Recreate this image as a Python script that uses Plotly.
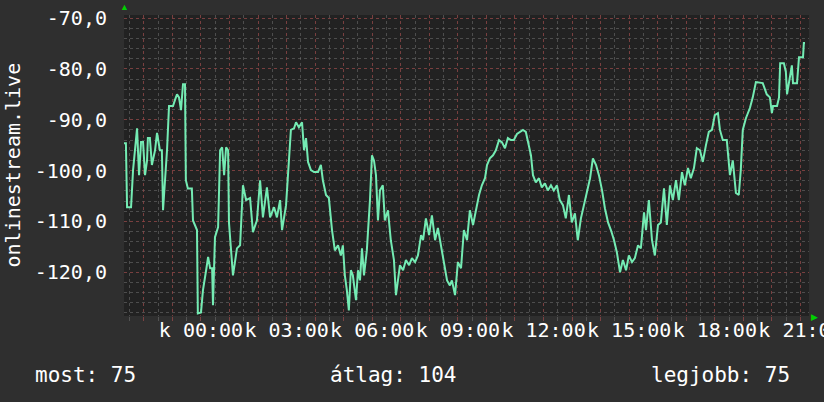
import plotly.graph_objects as go

# ---- data (hours relative to midnight, signal values) ----
hours = [-2.70, -2.63, -2.59, -2.45, -2.38, -2.31, -2.24, -2.17, -2.10, -2.03, -1.96, -1.89, -1.86, -1.79,
         -1.72, -1.61, -1.54, -1.44, -1.37, -1.33, -1.26, -1.19, -1.12, -0.98, -0.91, -0.84, -0.77, -0.70,
         -0.63, -0.56, -0.53, -0.46, -0.32, -0.28, -0.14, -0.11, 0.00, 0.07, 0.18, 0.25, 0.32, 0.39, 0.42,
         0.49, 0.60, 0.67, 0.74, 0.81, 0.88, 0.95, 0.98, 1.12, 1.19, 1.26, 1.37, 1.47, 1.58, 1.72, 1.82,
         1.96, 2.07, 2.17, 2.31, 2.42, 2.56, 2.66, 2.77, 2.84, 2.98, 3.08, 3.15, 3.26, 3.33, 3.43, 3.54,
         3.61, 3.68, 3.75, 3.85, 3.96, 4.10, 4.20, 4.27, 4.38, 4.48, 4.59, 4.69, 4.80, 4.90, 4.97, 5.04,
         5.11, 5.18, 5.25, 5.32, 5.43, 5.50, 5.57, 5.64, 5.71, 5.81, 5.92, 5.99, 6.06, 6.13, 6.20, 6.27,
         6.37, 6.44, 6.55, 6.65, 6.76, 6.83, 6.90, 6.97, 7.08, 7.18, 7.29, 7.39, 7.50, 7.60, 7.71, 7.78,
         7.88, 7.99, 8.09, 8.20, 8.30, 8.41, 8.51, 8.62, 8.72, 8.79, 8.90, 9.00, 9.11, 9.21, 9.32, 9.42,
         9.53, 9.63, 9.74, 9.84, 9.95, 10.02, 10.12, 10.23, 10.33, 10.44, 10.54, 10.65, 10.75, 10.86,
         10.96, 11.07, 11.17, 11.28, 11.38, 11.45, 11.56, 11.63, 11.73, 11.84, 11.94, 12.05, 12.15, 12.26,
         12.36, 12.47, 12.57, 12.68, 12.78, 12.89, 12.99, 13.10, 13.20, 13.31, 13.42, 13.52, 13.63, 13.73,
         13.84, 13.94, 14.05, 14.15, 14.26, 14.36, 14.47, 14.57, 14.68, 14.78, 14.89, 14.99, 15.10, 15.20,
         15.31, 15.41, 15.52, 15.59, 15.69, 15.80, 15.90, 16.01, 16.11, 16.22, 16.32, 16.43, 16.53, 16.64,
         16.74, 16.85, 16.95, 17.06, 17.16, 17.27, 17.37, 17.48, 17.58, 17.69, 17.79, 17.90, 18.00, 18.11,
         18.18, 18.28, 18.42, 18.53, 18.63, 18.74, 18.84, 18.91, 18.98, 19.09, 19.23, 19.33, 19.44, 19.68,
         19.82, 19.93, 20.00, 20.04, 20.18, 20.25, 20.29, 20.42, 20.49, 20.53, 20.63, 20.70, 20.74, 20.88,
         20.95, 21.09, 21.12, 21.16]

signal = [-94.6, -94.6, -107.2, -107.2, -99.9, -96.0, -91.7, -100.9, -94.4, -94.4, -100.9, -98.0, -93.6, -93.6,
          -98.9, -96.0, -92.6, -96.0, -96.0, -107.8, -102.5, -96.0, -87.3, -87.3, -86.1, -85.0, -85.6, -88.1,
          -83.0, -83.0, -101.9, -103.5, -103.5, -109.8, -111.7, -128.1, -127.9, -123.5, -119.6, -117.0, -119.2,
          -119.2, -126.5, -113.1, -111.1, -96.0, -95.4, -100.9, -95.4, -96.0, -110.2, -120.6, -118.0, -115.3,
          -114.7, -102.9, -105.8, -105.4, -112.1, -109.8, -101.9, -109.2, -103.3, -109.2, -107.2, -109.2,
          -105.8, -111.7, -106.8, -98.0, -92.0, -91.7, -90.5, -91.5, -90.5, -96.0, -93.6, -98.3, -99.9,
          -100.3, -100.3, -98.9, -101.9, -104.8, -105.4, -111.7, -115.7, -114.7, -116.7, -114.7, -120.6,
          -123.5, -127.5, -119.6, -120.6, -125.5, -119.6, -121.6, -115.3, -120.6, -115.7, -105.8, -97.0,
          -98.0, -100.9, -109.8, -103.9, -102.9, -109.8, -107.8, -113.7, -117.6, -124.5, -121.6, -118.6,
          -119.6, -117.6, -118.6, -117.2, -118.0, -116.7, -112.7, -113.7, -109.4, -112.7, -108.8, -113.7,
          -111.3, -114.7, -118.6, -121.6, -122.6, -121.6, -124.5, -118.0, -119.2, -111.7, -113.7, -107.8,
          -110.7, -107.8, -104.8, -102.9, -101.5, -98.9, -97.6, -97.0, -96.0, -94.0, -94.4, -95.6, -93.6,
          -94.0, -94.0, -92.8, -92.4, -92.0, -92.4, -94.0, -97.0, -100.9, -102.3, -101.5, -103.3, -102.5,
          -103.9, -102.9, -103.9, -102.9, -105.8, -106.8, -109.4, -104.8, -110.2, -108.4, -113.7, -109.4,
          -106.8, -103.9, -101.5, -97.6, -98.9, -100.9, -103.9, -107.4, -110.2, -111.7, -113.7, -116.1,
          -120.0, -117.6, -119.6, -116.7, -118.0, -117.2, -114.7, -115.3, -108.2, -111.7, -105.8, -113.7,
          -116.7, -110.7, -110.2, -103.5, -110.7, -102.9, -105.8, -101.9, -105.8, -100.3, -102.9, -99.5,
          -101.5, -99.5, -95.6, -96.0, -98.3, -95.0, -92.4, -92.0, -89.1, -88.7, -92.0, -94.0, -94.0,
          -100.9, -98.0, -104.4, -104.8, -99.9, -92.0, -89.7, -87.7, -85.6, -82.6, -82.8, -85.0, -85.6,
          -88.7, -87.3, -87.3, -85.6, -78.9, -78.9, -80.6, -85.0, -81.6, -79.3, -82.8, -82.8, -77.7, -77.7,
          -74.9, -74.9]

y_ticks = [-70, -80, -90, -100, -110, -120]
x_tick_hours = [0, 3, 6, 9, 12, 15, 18, 21]
x_tick_labels = ["k 00:00", "k 03:00", "k 06:00", "k 09:00", "k 12:00", "k 15:00", "k 18:00", "k 21:00"]
y_title = "onlinestream.live"
stat_labels = ["most", "átlag", "legjobb"]
stat_values = [75, 104, 75]

# ---- styling ----
BG = "#2f2f2f"
CANVAS = "#222222"
LINE = "#74ebb3"
MAJOR = "rgba(150,55,55,0.6)"
MINOR = "rgba(120,120,120,0.5)"
FONT = "DejaVu Sans Mono"

fig = go.Figure()
fig.add_trace(go.Scatter(x=hours, y=signal, mode="lines",
                         line=dict(color=LINE, width=2), hoverinfo="skip"))

all_hours = list(range(-2, 22))
fig.update_xaxes(
    range=[-2.697, 21.30],
    tickmode="array",
    tickvals=all_hours,
    ticktext=[x_tick_labels[x_tick_hours.index(h)] if h in x_tick_hours else "" for h in all_hours],
    tickangle=0,
    ticklabeloverflow="allow",
    showgrid=True, gridcolor=MAJOR, griddash="dot", gridwidth=1,
    ticks="outside", ticklen=4, tickcolor=MAJOR,
    minor=dict(dtick=0.5, tick0=0, showgrid=True, gridcolor=MINOR, griddash="dot",
               ticks="outside", ticklen=4, tickcolor=MINOR),
    tickfont=dict(family=FONT, size=20, color="white"),
    ticklabelstandoff=-8,
    zeroline=False, showline=False, automargin=False,
)
fig.update_yaxes(
    range=[-128.6, -69.4],
    tickmode="array",
    tickvals=y_ticks,
    ticktext=[f"{v:.1f}".replace(".", ",") for v in y_ticks],
    showgrid=True, gridcolor=MAJOR, griddash="dot", gridwidth=1,
    minor=dict(dtick=2, tick0=-70, showgrid=True, gridcolor=MINOR, griddash="dot"),
    tickfont=dict(family=FONT, size=20, color="white"),
    ticklabelstandoff=16,
    zeroline=False, showline=False, automargin=False,
)

annotations = [
    dict(text=y_title, x=-0.1635, y=0.5, xref="paper", yref="paper", textangle=-90,
         showarrow=False, xanchor="center", yanchor="middle",
         font=dict(family=FONT, size=20, color="white")),
    dict(text=f"{stat_labels[0]}: {stat_values[0]}", x=-0.1328, y=-0.196, xref="paper", yref="paper",
         xanchor="left", yanchor="middle", showarrow=False,
         font=dict(family=FONT, size=21, color="white")),
    dict(text=f"{stat_labels[1]}: {stat_values[1]}", x=0.2978, y=-0.196, xref="paper", yref="paper",
         xanchor="left", yanchor="middle", showarrow=False,
         font=dict(family=FONT, size=21, color="white")),
    dict(text=f"{stat_labels[2]}: {stat_values[2]}", x=0.975, y=-0.196, xref="paper", yref="paper",
         xanchor="right", yanchor="middle", showarrow=False,
         font=dict(family=FONT, size=21, color="white")),
    dict(text="▲", x=0, y=1.0, xref="paper", yref="paper", xanchor="center", yanchor="bottom",
         showarrow=False, font=dict(size=9, color="#00d000")),
    dict(text="▶", x=1.0, y=0, xref="paper", yref="paper", xanchor="left", yanchor="middle",
         showarrow=False, font=dict(size=9, color="#00d000")),
]

fig.update_layout(
    width=824, height=402,
    margin=dict(l=124, r=15, t=15, b=86),
    paper_bgcolor=BG, plot_bgcolor=CANVAS,
    showlegend=False,
    template="none",
    annotations=annotations,
)

fig.write_html("out.html", config={"displayModeBar": False},
               post_script="document.body.style.margin='0';")
